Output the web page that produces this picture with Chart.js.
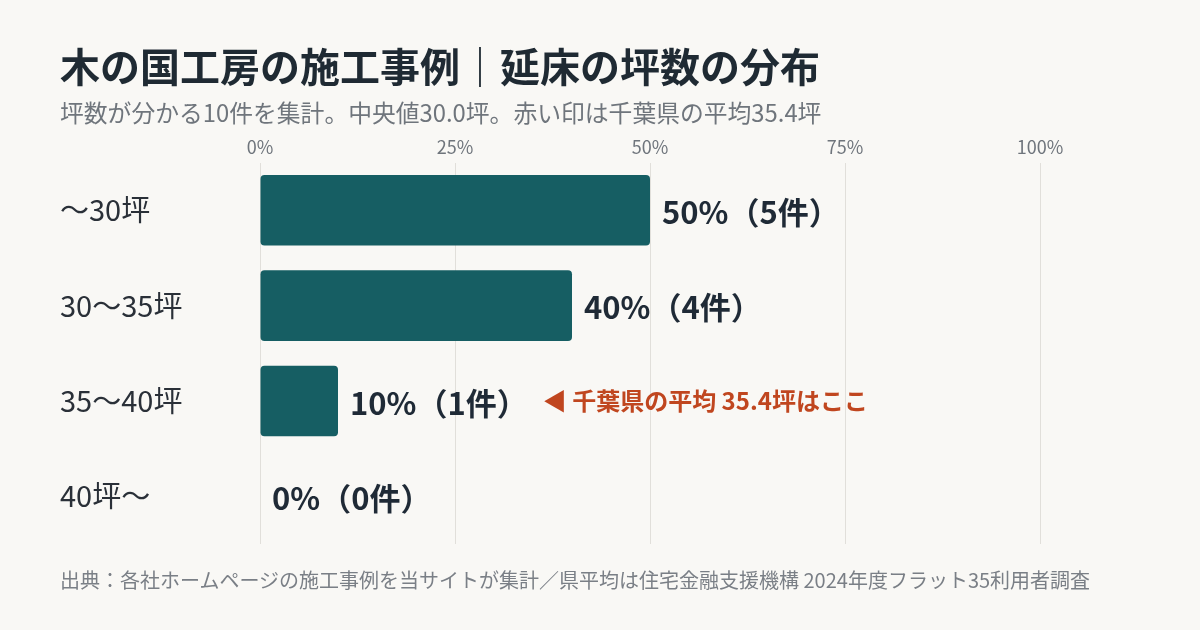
<!DOCTYPE html>
<html lang="ja">
<head>
<meta charset="utf-8">
<script src="https://cdn.jsdelivr.net/npm/chart.js@4"></script>
<style>
    html, body { margin: 0; padding: 0; background: #f9f8f5; }
    body { width: 1200px; height: 630px; position: relative; overflow: hidden; font-family: "Noto Sans CJK JP", "Noto Sans", sans-serif; }
    .title { position: absolute; left: 60px; top: 37px; font-size: 40px; line-height: 56px; font-weight: 700; color: #1f2a33; }
    .subtitle { position: absolute; left: 60px; top: 97px; font-size: 23.8px; line-height: 30px; color: #6f757c; }
    .source { position: absolute; left: 60px; top: 566px; font-size: 20px; line-height: 28px; color: #7a7f86; }
    #wrap { position: absolute; left: 0; top: 0; width: 1200px; height: 630px; }
</style>
</head>
<body>
<div id="wrap"><canvas id="barChart" width="1200" height="630"></canvas></div>
<div class="title">木の国工房の施工事例｜延床の坪数の分布</div>
<div class="subtitle">坪数が分かる10件を集計。中央値30.0坪。赤い印は千葉県の平均35.4坪</div>
<div class="source">出典：各社ホームページの施工事例を当サイトが集計／県平均は住宅金融支援機構 2024年度フラット35利用者調査</div>
<script>
const categories = ['〜30坪', '30〜35坪', '35〜40坪', '40坪〜'];
const shares = [50, 40, 10, 0];   // %
const counts = [5, 4, 1, 0];      // 件
const xTicks = [0, 25, 50, 75, 100];
const prefAverage = 35.4;         // 千葉県の平均（坪）
const averageRow = 2;             // 35〜40坪 の行
const averageNote = '◀ 千葉県の平均 ' + prefAverage + '坪はここ';

const FONT = '"Noto Sans CJK JP", "Noto Sans", sans-serif';

// value labels + red note, drawn after the bars
const barLabels = {
    id: 'barLabels',
    afterDatasetsDraw(chart) {
        const ctx = chart.ctx;
        const meta = chart.getDatasetMeta(0);
        ctx.save();
        ctx.textBaseline = 'middle';
        meta.data.forEach((bar, i) => {
            const text = shares[i] + '%（' + counts[i] + '件）';
            ctx.font = '700 31px ' + FONT;
            ctx.fillStyle = '#1f2a36';
            ctx.textAlign = 'left';
            const x = bar.x + 12;
            ctx.fillText(text, x, bar.y + 2);
            if (i === averageRow) {
                const w = ctx.measureText(text).width;
                ctx.font = '700 24px ' + FONT;
                ctx.fillStyle = '#c0461f';
                ctx.fillText(averageNote, x + w + 15, bar.y);
            }
        });
        ctx.restore();
    }
};

new Chart(document.getElementById('barChart').getContext('2d'), {
    type: 'bar',
    data: {
        labels: categories,
        datasets: [{
            data: shares,
            backgroundColor: '#165e63',
            borderRadius: 4,
            borderSkipped: false,
            barPercentage: 0.74,
            categoryPercentage: 1.0
        }]
    },
    options: {
        indexAxis: 'y',
        responsive: false,
        animation: false,
        devicePixelRatio: 1,
        layout: { padding: { left: 60, right: 160, top: 131, bottom: 86 } },
        plugins: { legend: { display: false }, tooltip: { enabled: false } },
        scales: {
            x: {
                position: 'top',
                min: 0,
                max: 100,
                afterBuildTicks: axis => { axis.ticks = xTicks.map(v => ({ value: v })); },
                ticks: {
                    callback: v => v + '%',
                    color: '#6f757c',
                    font: { family: FONT, size: 18 },
                    padding: 5
                },
                grid: { color: '#e1dfda', drawTicks: false, lineWidth: 1 },
                border: { display: false }
            },
            y: {
                afterFit: axis => { axis.width = 200; },
                ticks: {
                    crossAlign: 'far',
                    color: '#2a3038',
                    font: { family: FONT, size: 29 },
                    padding: 0
                },
                grid: { display: false },
                border: { display: false }
            }
        }
    },
    plugins: [barLabels]
});
</script>
</body>
</html>
